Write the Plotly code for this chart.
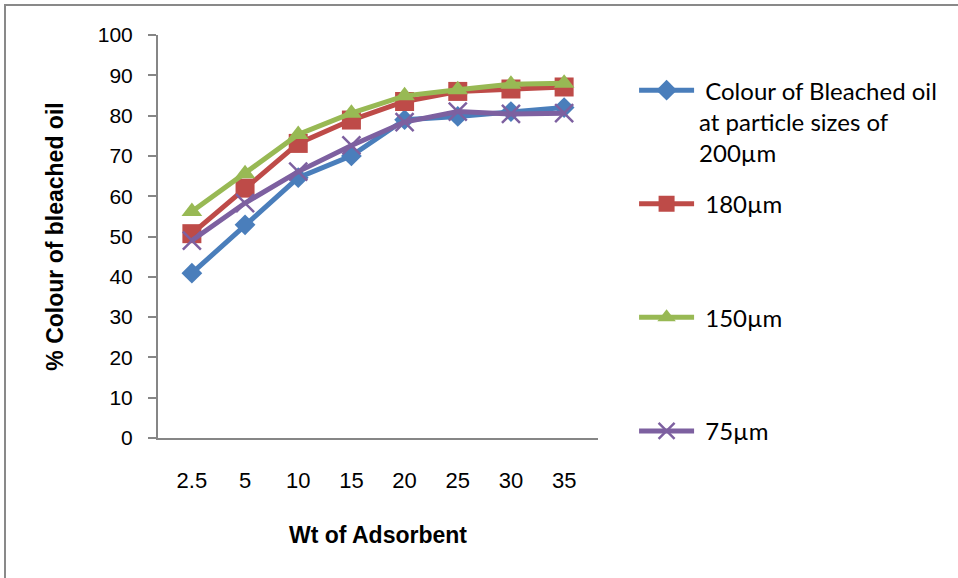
import plotly.graph_objects as go

categories = ["2.5", "5", "10", "15", "20", "25", "30", "35"]
s200 = [40.9, 52.9, 64.6, 70.0, 79.0, 79.8, 81.0, 82.0]
s180 = [50.7, 62.0, 73.1, 78.9, 83.5, 86.0, 86.6, 87.1]
s150 = [56.2, 65.6, 75.3, 80.6, 84.9, 86.4, 87.8, 88.0]
s75 = [49.0, 58.3, 66.1, 72.6, 78.4, 81.0, 80.4, 80.6]

names = [" Colour of Bleached oil<br>at particle sizes of<br>200µm",
         " 180µm<br>&nbsp;<br>&nbsp;",
         " 150µm<br>&nbsp;<br>&nbsp;",
         " 75µm"]
colors = ["#4A7EBB", "#BE4B48", "#98B954", "#7D60A0"]
symbols = ["diamond", "square", "triangle-up", "x-thin-open"]
sizes = [16, 19, 18, 18]
series = [s200, s180, s150, s75]

fig = go.Figure()
for i, (vals, nm, c, sym, sz) in enumerate(zip(series, names, colors, symbols, sizes)):
    marker = dict(symbol=sym, size=sz, color=c)
    if sym == "x-thin-open":
        marker["line"] = dict(color=c, width=2.5)
    fig.add_trace(go.Scatter(
        x=categories, y=vals, name=nm, mode="lines+markers",
        line=dict(color=c, width=5), marker=marker,
        legendgroup=f"g{i}",
    ))

fig.update_layout(
    width=958, height=578,
    margin=dict(l=158, r=360, t=35, b=140),
    paper_bgcolor="white", plot_bgcolor="white",
    showlegend=True,
    legend=dict(
        x=1.082, y=0.918, xanchor="left", yanchor="top",
        font=dict(family="Lato", size=24, color="black"),
        valign="top", tracegroupgap=17, itemwidth=55,
        bgcolor="rgba(0,0,0,0)",
    ),
    xaxis=dict(
        type="category", showline=True, linecolor="#868686", linewidth=2,
        ticks="", showgrid=False, zeroline=False,
        tickfont=dict(family="Liberation Sans", size=22, color="black"),
        ticklabelstandoff=22,
        title=dict(text="<b>Wt of Adsorbent</b>", standoff=34,
                   font=dict(family="Liberation Sans", size=23, color="black")),
    ),
    yaxis=dict(
        range=[0, 100], dtick=10, showline=True, linecolor="#868686", linewidth=2,
        ticks="outside", ticklen=8, tickcolor="#868686", tickwidth=2,
        showgrid=False, zeroline=False,
        tickfont=dict(family="Liberation Sans", size=21, color="black"),
        ticklabelstandoff=11,
        title=dict(text="<b>% Colour of bleached oil</b>", standoff=28,
                   font=dict(family="Liberation Sans", size=23, color="black")),
    ),
    shapes=[dict(type="rect", xref="paper", yref="paper",
                 x0=(5 - 158) / 440, x1=(970 - 158) / 440,
                 y0=(438 - 600) / 403, y1=(438 - 5) / 403,
                 line=dict(color="#898989", width=2), fillcolor="rgba(0,0,0,0)",
                 layer="below")],
)

fig.write_html("out.html")
